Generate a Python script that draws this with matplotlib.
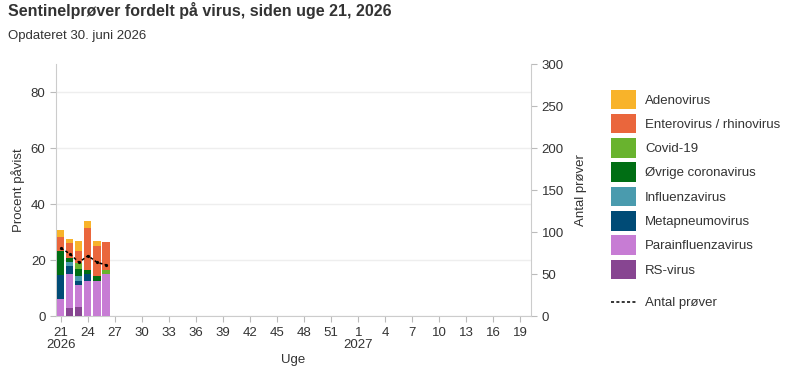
import numpy as np
import matplotlib.pyplot as plt
from matplotlib.patches import Patch
from matplotlib.lines import Line2D

plt.rcParams['font.family'] = ['Liberation Sans', 'DejaVu Sans']

# weeks 21/2026 .. 20/2027 (2026 has 53 ISO weeks)
weeks = list(range(21, 54)) + list(range(1, 21))
tick_weeks = [21, 24, 27, 30, 33, 36, 39, 42, 45, 48, 51, 1, 4, 7, 10, 13, 16, 19]

# percent positive per virus, weeks 21-26 (stacked bottom -> top)
rs_virus = [0.0, 3.0, 3.3, 0.0, 0.0, 0.0]
parainfluenza = [6.0, 11.9, 7.7, 12.6, 12.6, 15.0]
metapneumo = [8.6, 2.9, 1.4, 2.4, 0.0, 0.0]
influenza = [0.0, 1.4, 1.8, 0.0, 0.0, 0.0]
oevrige_corona = [8.6, 1.5, 2.8, 1.5, 1.7, 0.0]
covid = [0.0, 0.0, 1.9, 0.0, 0.0, 1.5]
entero_rhino = [5.0, 5.4, 4.5, 14.8, 10.6, 9.8]
adeno = [2.5, 1.4, 3.3, 2.8, 1.8, 0.0]

antal_proever = [81, 74, 64, 72, 64, 61]

series = [
    ("RS-virus", rs_virus, "#874591"),
    ("Parainfluenzavirus", parainfluenza, "#C77CD4"),
    ("Metapneumovirus", metapneumo, "#004B76"),
    ("Influenzavirus", influenza, "#4A9BAE"),
    ("Øvrige coronavirus", oevrige_corona, "#006E14"),
    ("Covid-19", covid, "#69B32E"),
    ("Enterovirus / rhinovirus", entero_rhino, "#EA663C"),
    ("Adenovirus", adeno, "#F8B32A"),
]
dash = (0, (2, 1.5))

fig = plt.figure(figsize=(8, 3.75), dpi=100)
ax = fig.add_axes([0.07, 0.157, 0.594, 0.672])
ax2 = ax.twinx()

x = np.arange(len(rs_virus))
bottom = np.zeros(len(x))
for name, vals, col in series:
    ax.bar(x, vals, bottom=bottom, width=0.78, color=col, zorder=3)
    bottom += np.array(vals)

ax2.plot(x, antal_proever, color="black", linestyle=dash, lw=1.1,
         marker="o", markersize=1.3, zorder=4)

ax.set_xlim(-0.55, 52.2)
ax.set_ylim(0, 90)
ax2.set_ylim(0, 300)
ax.set_yticks([0, 20, 40, 60, 80])
ax2.set_yticks([0, 50, 100, 150, 200, 250, 300])
ax.grid(axis="y", color="#eeeeee", lw=1, zorder=0)
ax.set_axisbelow(True)

tick_pos = [weeks.index(w) if w >= 21 else 33 + w - 1 for w in tick_weeks]
labels = []
for w in tick_weeks:
    if w == 21:
        labels.append("21\n2026")
    elif w == 1:
        labels.append("1\n2027")
    else:
        labels.append(str(w))
ax.set_xticks(tick_pos)
ax.set_xticklabels(labels, fontsize=9.5, color="#333333", linespacing=1.1)

for a in (ax, ax2):
    for s in a.spines.values():
        s.set_visible(False)
    a.tick_params(colors="#333333", labelsize=9.5, length=4, width=0.8)
    a.tick_params(axis="both", color="#bbbbbb")
ax.spines["left"].set_visible(True)
ax.spines["left"].set_color("#cccccc")
ax.spines["bottom"].set_visible(True)
ax.spines["bottom"].set_color("#cccccc")
ax2.spines["right"].set_visible(True)
ax2.spines["right"].set_color("#cccccc")

ax.set_xlabel("Uge", fontsize=9.5, color="#333333", labelpad=2)
ax.set_ylabel("Procent påvist", fontsize=9.5, color="#333333")
ax2.set_ylabel("Antal prøver", fontsize=9.5, color="#333333", labelpad=8)

handles = [Patch(facecolor=col, edgecolor="none", label=name)
           for name, vals, col in reversed(series)]
leg = fig.legend(handles=handles, loc="upper left", bbox_to_anchor=(0.757, 0.775),
                 frameon=False, fontsize=9.5, handlelength=1.9, handleheight=1.9,
                 handletextpad=0.7, labelspacing=0.36, borderaxespad=0)
for t in leg.get_texts():
    t.set_color("#333333")

line_h = Line2D([], [], color="black", linestyle=dash, lw=1.1, label="Antal prøver")
leg2 = fig.legend(handles=[line_h], loc="upper left", bbox_to_anchor=(0.757, 0.222),
                  frameon=False, fontsize=9.5, handlelength=1.9,
                  handletextpad=0.7, borderaxespad=0)
for t in leg2.get_texts():
    t.set_color("#333333")

fig.text(0.01, 0.958, "Sentinelprøver fordelt på virus, siden uge 21, 2026",
         fontsize=11.5, fontweight="bold", color="#333333")
fig.text(0.01, 0.895, "Opdateret 30. juni 2026", fontsize=9.5, color="#333333")

fig.savefig("out.png", dpi=100)
